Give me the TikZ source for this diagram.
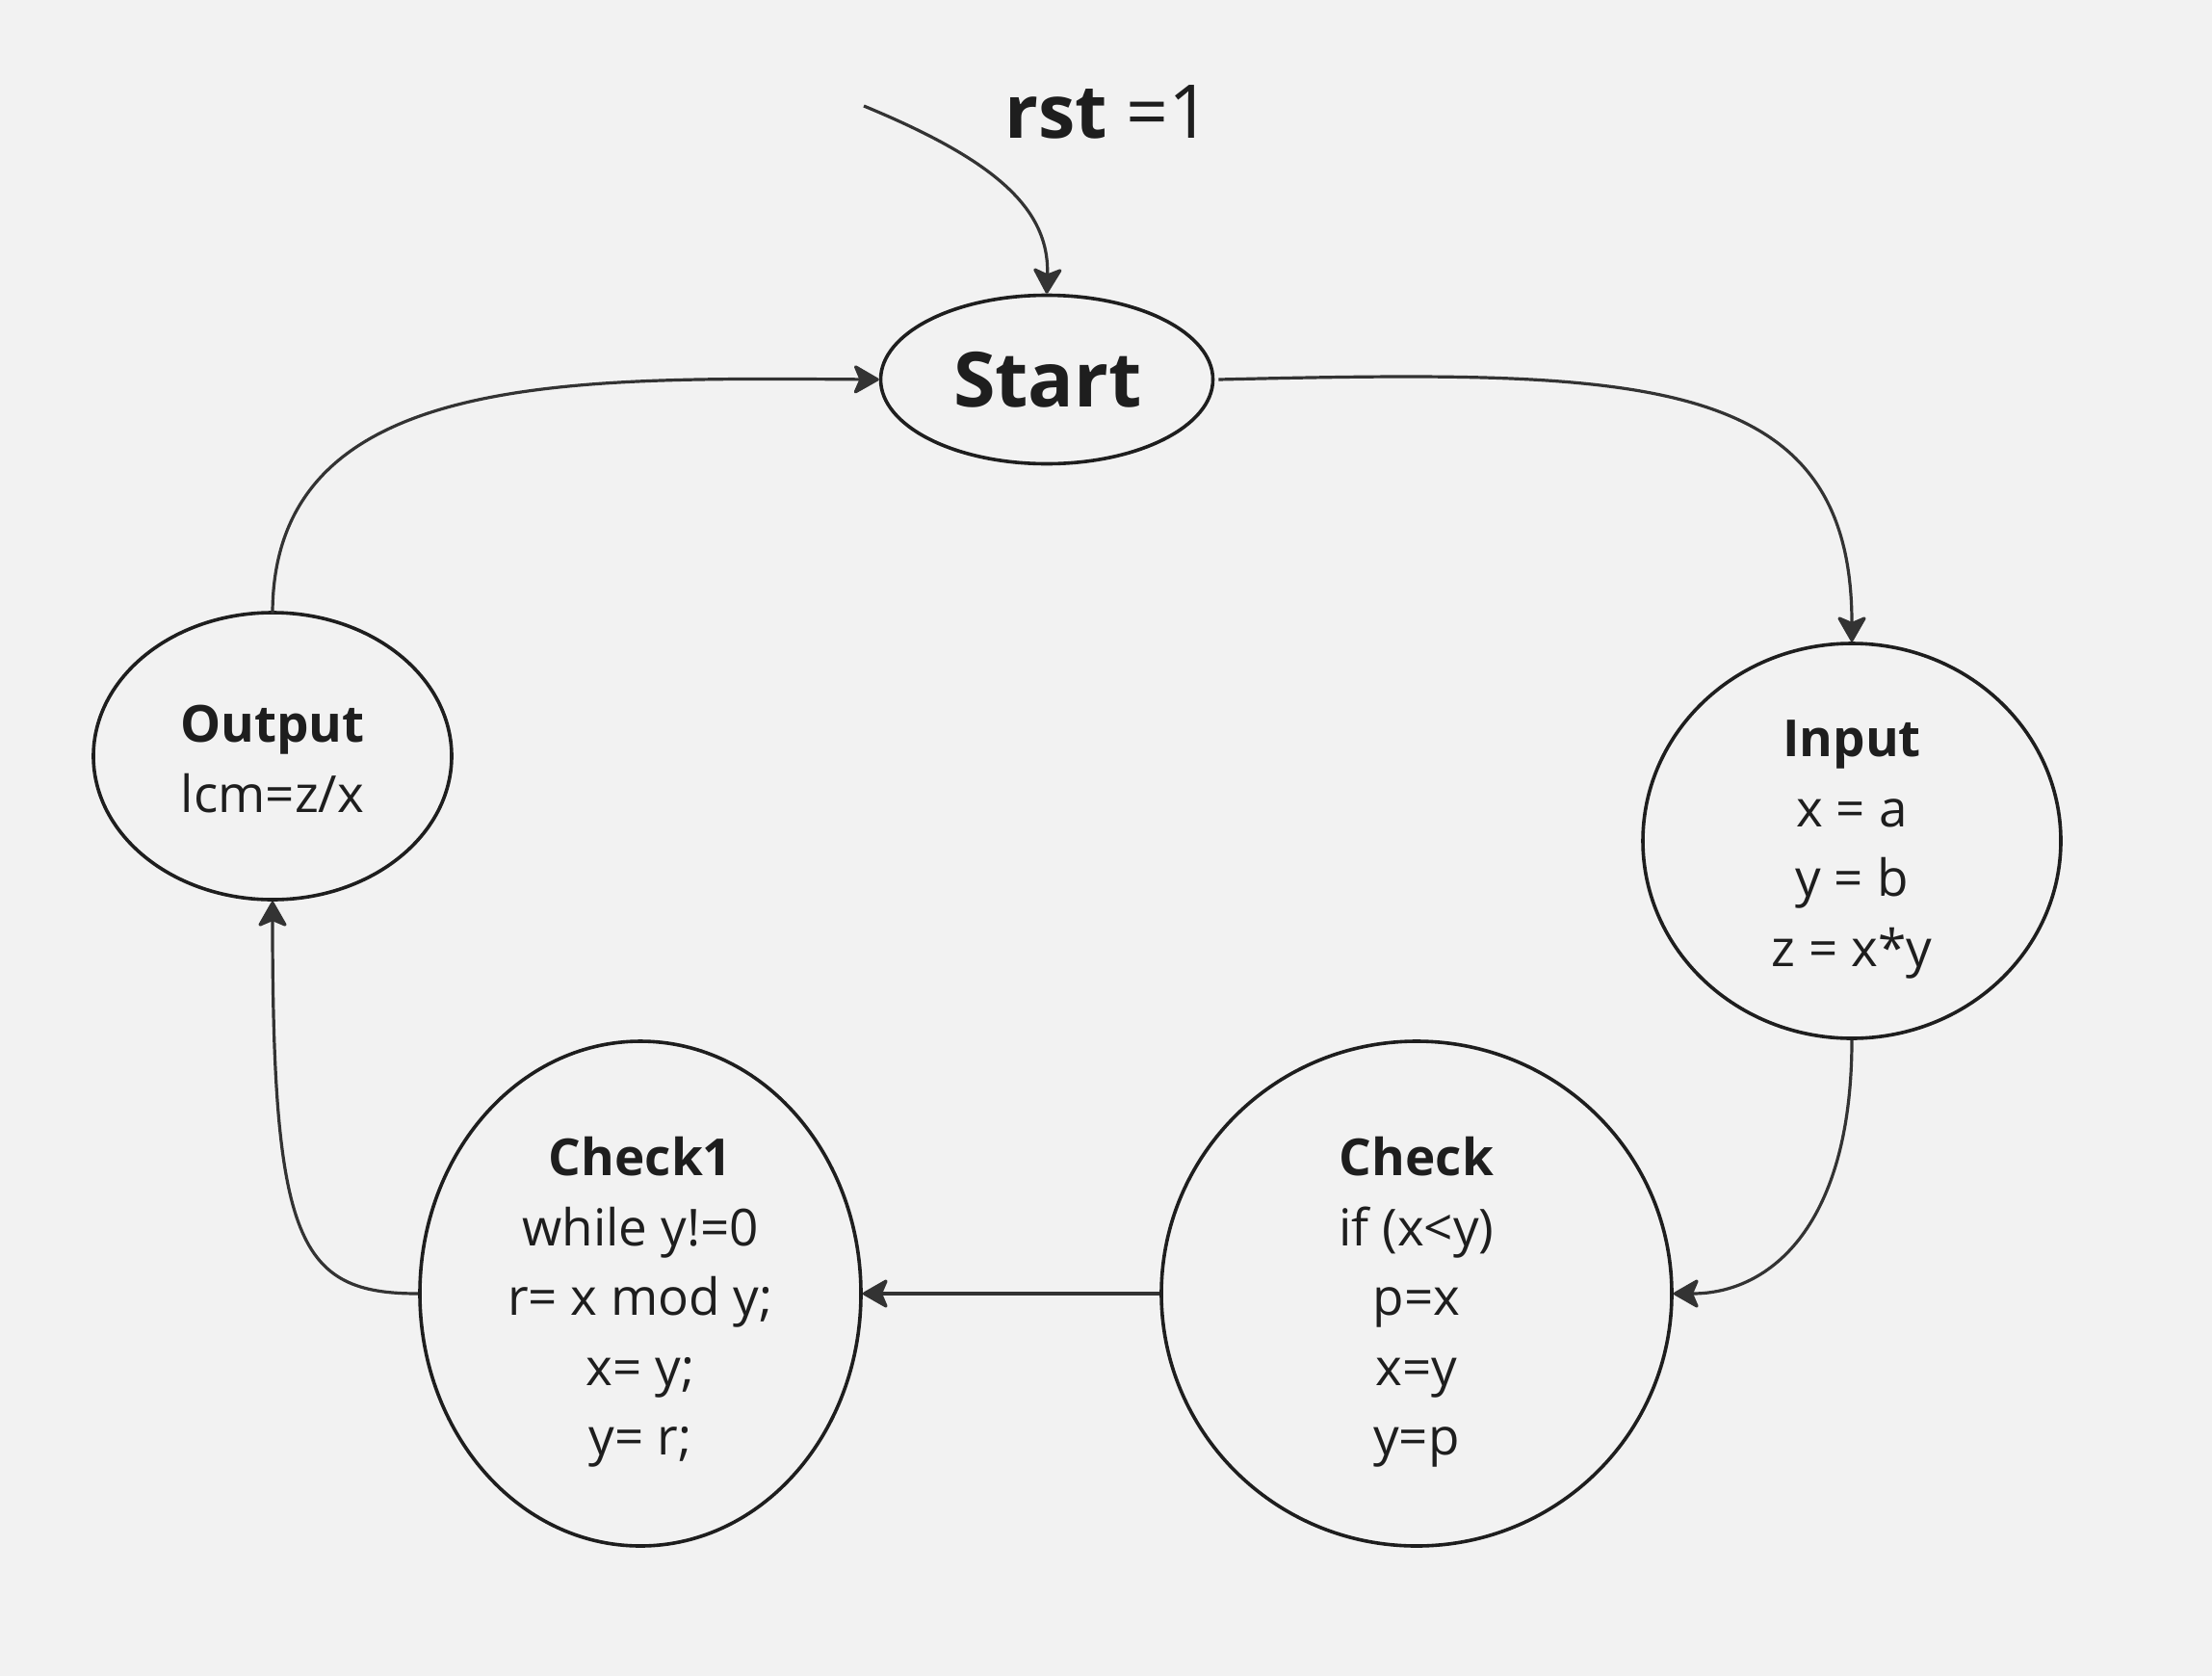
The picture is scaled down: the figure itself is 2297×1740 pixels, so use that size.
\documentclass[tikz,border=0pt]{standalone}
\usepackage{fontspec}
\setmainfont{Open Sans}
\usetikzlibrary{shapes.geometric,arrows.meta}
\definecolor{bgc}{HTML}{F2F2F2}
\definecolor{ink}{HTML}{1E1E1E}
\definecolor{wire}{HTML}{333333}
\begin{document}
\begin{tikzpicture}[x=1pt,y=-1pt,
  state/.style={draw=ink, line width=3.6pt, ellipse, inner sep=0pt},
  txt/.style={inner sep=0pt, align=center, text=ink, font=\fontsize{53}{72.5}\selectfont},
  conn/.style={draw=wire, line width=3.2pt, -{Stealth[length=29pt,width=33pt,inset=7pt,round]}}]
\path[fill=bgc] (0,0) rectangle (2297,1740);
\useasboundingbox (0,0) rectangle (2297,1740);

\node[state, minimum width=345pt, minimum height=175pt] (start) at (1087,394) {};
\node[state, minimum width=372pt, minimum height=298pt] (output) at (283,785) {};
\node[state, minimum width=434pt, minimum height=410pt] (input) at (1923,873) {};
\node[state, minimum width=458pt, minimum height=524pt] (check1) at (665,1343) {};
\node[state, minimum width=530pt, minimum height=524pt] (check) at (1471,1343) {};

\node[txt, font=\fontsize{79}{90}\selectfont\bfseries] (start-t) at ([xshift=1pt]start.center) {Start};
\node[txt] (output-t) at ([yshift=-3pt]output.center) {\textbf{Output}\\lcm=z/x};
\node[txt] (input-t) at ([yshift=-9pt]input.center) {\textbf{Input}\\x = a\\y = b\\z = x*y};
\node[txt] (check1-t) at ([yshift=-9pt]check1.center) {\textbf{Check1}\\while y!=0\\r= x mod y;\\x= y;\\y= r;};
\node[txt] (check-t) at ([yshift=-9pt]check.center) {\textbf{Check}\\if (x<y)\\p=x\\x=y\\y=p};

\node[anchor=base west, text=ink, inner sep=0pt, font=\fontsize{77}{80}\selectfont] (rst) at (1043,143) {\textbf{rst} =1};
\coordinate (rstin) at (897,110);

\draw[conn] (rstin) .. controls (1030,165) and (1090,215) .. (start.north);
\draw[conn] ([xshift=4pt]start.east) .. controls (1700,384) and (1923,384) .. (input.north);
\draw[conn] (input.south) .. controls (1923,1270) and (1840,1343) .. (check.east);
\draw[conn] (check.west) -- (check1.east);
\draw[conn] (check1.west) .. controls (310,1343) and (283,1290) .. (output.south);
\draw[conn] ([yshift=-3pt]output.north) .. controls (283,385) and (590,392) .. (start.west);
\end{tikzpicture}
\end{document}
